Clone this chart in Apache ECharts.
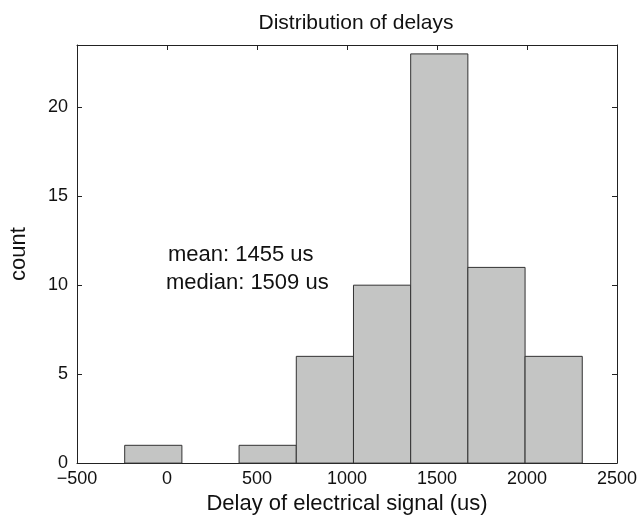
<!DOCTYPE html>
<html><head><meta charset="utf-8">
<script src="https://cdn.jsdelivr.net/npm/echarts@6/dist/echarts.min.js"></script>
<style>html,body{margin:0;padding:0;background:#fff}#c{width:642px;height:520px}</style>
</head><body><div id="c"></div>
<script>
const binEdges = [-235, 82.75, 400.5, 718.25, 1036, 1353.75, 1671.5, 1989.25, 2307];
const counts = [1, 0, 1, 6, 10, 23, 11, 6];
const xTicks = [-500, 0, 500, 1000, 1500, 2000, 2500];
const yTicks = [0, 5, 10, 15, 20];
const titleText = 'Distribution of delays';
const xName = 'Delay of electrical signal (us)';
const yName = 'count';
const notes = ['mean: 1455 us', 'median: 1509 us'];

const F = 'Liberation Sans, Arial, Helvetica, sans-serif';
const data = counts.map((c, i) => [binEdges[i], binEdges[i + 1], c]);
const chart = echarts.init(document.getElementById('c'));
const axLine = { show: true, onZero: false, lineStyle: { color: '#222', width: 1 } };
const tick = { show: true, inside: true, length: 5, lineStyle: { color: '#222' } };
chart.setOption({
  animation: false,
  title: { text: titleText, left: 351, top: 8, textAlign: 'center',
    textStyle: { fontFamily: F, fontSize: 21, fontWeight: 'normal', color: '#111' } },
  grid: { left: 74, right: 25, top: 45, bottom: 53 },
  xAxis: [{
    type: 'value', min: -500, max: 2500, interval: 500,
    axisLine: axLine, axisTick: tick, splitLine: { show: false },
    axisLabel: { fontFamily: F, fontSize: 18, color: '#111', margin: 7,
      formatter: v => (v < 0 ? '\u2212' + Math.abs(v) : String(v)) },
    name: xName, nameLocation: 'middle', nameGap: 29,
    nameTextStyle: { fontFamily: F, fontSize: 22, color: '#111', verticalAlign: 'top' }
  }, {
    type: 'value', position: 'top', min: -500, max: 2500, interval: 500,
    axisLine: axLine, axisTick: tick, axisLabel: { show: false }, splitLine: { show: false }
  }],
  yAxis: [{
    type: 'value', min: 0, max: 23.5, interval: 5,
    axisLine: axLine, axisTick: tick, splitLine: { show: false },
    axisLabel: { fontFamily: F, fontSize: 18, color: '#111', margin: 9,
      showMaxLabel: false,
      formatter: v => (v % 5 === 0 ? String(v) : '') },
    name: yName, nameLocation: 'middle', nameGap: 47, nameRotate: 90,
    nameTextStyle: { fontFamily: F, fontSize: 22, color: '#111' }
  }, {
    type: 'value', position: 'right', min: 0, max: 23.5, interval: 5,
    axisLine: axLine, axisTick: tick, axisLabel: { show: false }, splitLine: { show: false }
  }],
  series: [{
    type: 'custom',
    xAxisIndex: 0, yAxisIndex: 0,
    data: data,
    encode: { x: [0, 1], y: 2 },
    renderItem: function (params, api) {
      const c = api.value(2);
      if (c <= 0) return null;
      const p0 = api.coord([api.value(0), 0]);
      const p1 = api.coord([api.value(1), c]);
      return {
        type: 'rect',
        shape: { x: p0[0], y: p1[1], width: p1[0] - p0[0], height: p0[1] - p1[1] },
        style: { fill: '#c4c5c4', stroke: '#333', lineWidth: 1 }
      };
    }
  }],
  graphic: [
    { type: 'text', x: 168, y: 255, style: { text: notes[0], font: '22px ' + F, fill: '#111', verticalAlign: 'middle' } },
    { type: 'text', x: 166, y: 283, style: { text: notes[1], font: '22px ' + F, fill: '#111', verticalAlign: 'middle' } }
  ]
});
</script></body></html>
